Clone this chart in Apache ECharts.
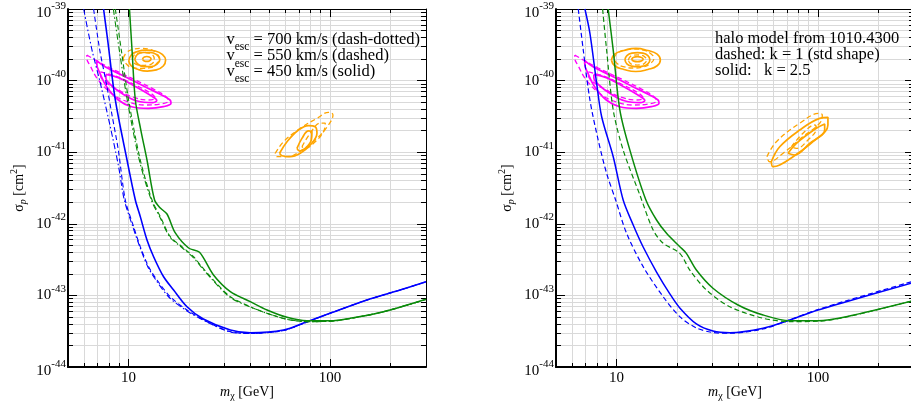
<!DOCTYPE html>
<html><head><meta charset="utf-8">
<script src="https://cdn.jsdelivr.net/npm/echarts@6/dist/echarts.min.js"></script>
<style>html,body{margin:0;padding:0;background:#fff;overflow:hidden}#c{width:911px;height:410px}</style>
</head><body><div id="c"></div>
<script>
// ---------------- data: mass [GeV], cross-section [cm^2] ----------------
const xTickMajor = [10, 100];
const xTickMinor = [5, 6, 7, 8, 9, 20, 30, 40, 50, 60, 70, 80, 90, 200, 300];
const xTickLabels = ['10', '100'];
const yTickMajor = [1e-44, 1e-43, 1e-42, 1e-41, 1e-40, 1e-39];
const yTickMantissa = [2, 3, 4, 5, 6, 7, 8, 9];
const yTickLabels = ['-44', '-43', '-42', '-41', '-40', '-39'];

// left panel: escape velocity variations
const leftBlueSolid = [[7.51,1e-39],[7.87,3.69e-40],[8.59,5.36e-41],[9.82,7.78e-42],[10.8,2.15e-42],[11.43,1.26e-42],[12.34,5.94e-43],[13.31,3.47e-43],[14.92,1.82e-43],[16.73,1.19e-43],[19.5,6.95e-44],[23.5,4.68e-44],[32.0,3.29e-44],[40.2,3.01e-44],[58.8,3.29e-44],[76.9,4.30e-44],[100,5.62e-44],[152.7,8.63e-44],[223,1.19e-43],[300,1.55e-43]];
const leftBlueDashed = [[6.70,1e-39],[7.19,2.67e-40],[7.75,9.16e-41],[8.30,3.13e-41],[8.89,1.07e-41],[9.63,2.15e-42],[10.59,9.12e-43],[11.43,4.79e-43],[12.57,2.52e-43],[13.84,1.64e-43],[16.1,9.59e-44],[19.5,6.25e-44],[24.5,4.30e-44],[32.0,3.12e-44],[40.2,2.94e-44],[58.8,3.24e-44],[76.9,4.25e-44],[100,5.62e-44],[152.7,8.63e-44],[223,1.19e-43],[300,1.55e-43]];
const leftBlueDashDot = [[5.98,1e-39],[6.58,2.67e-40],[7.24,9.16e-41],[8.11,2.27e-41],[8.92,6.27e-42],[9.52,2.15e-42],[10.49,9.12e-43],[11.36,4.79e-43],[12.45,2.52e-43],[13.73,1.61e-43],[15.92,9.35e-44],[19.34,6.15e-44],[24.5,4.25e-44],[32.0,3.08e-44],[40.2,2.94e-44],[58.8,3.24e-44],[76.9,4.25e-44],[100,5.62e-44],[152.7,8.63e-44],[223,1.19e-43],[300,1.55e-43]];
const leftGreenSolid = [[10.1,1e-39],[10.4,2.67e-40],[10.8,5.36e-41],[11.5,2.04e-41],[12.34,7.78e-42],[13.46,2.15e-42],[14.37,1.66e-42],[15.51,1.37e-42],[17.06,7.45e-43],[19.86,4.59e-43],[22.5,4.00e-43],[26.4,1.93e-43],[32.0,1.13e-43],[40.2,8.17e-44],[48.7,6.25e-44],[61.2,4.94e-44],[76.9,4.43e-44],[100,4.43e-44],[126.2,4.79e-44],[184.6,5.92e-44],[300,8.83e-44]];
const leftGreenDashed = [[8.59,1e-39],[9.20,2.67e-40],[10.0,5.36e-41],[11.43,7.78e-42],[13.07,2.15e-42],[14.37,1.26e-42],[16.11,6.61e-43],[18.41,4.79e-43],[21.02,3.47e-43],[22.7,2.66e-43],[26.4,1.64e-43],[32.0,9.59e-44],[40.2,6.95e-44],[48.7,5.62e-44],[61.2,4.64e-44],[76.9,4.30e-44],[100,4.35e-44],[126.2,4.76e-44],[184.6,5.92e-44],[300,8.77e-44]];
const leftGreenDashDot = [[8.40,1e-39],[8.99,2.67e-40],[9.85,5.36e-41],[11.30,7.78e-42],[12.96,2.15e-42],[14.29,1.24e-42],[16.02,6.55e-43],[18.27,4.74e-43],[20.96,3.38e-43],[22.7,2.58e-43],[26.4,1.59e-43],[32.0,9.35e-44],[40.2,6.89e-44],[48.7,5.62e-44],[61.2,4.64e-44],[76.9,4.30e-44],[100,4.35e-44],[126.2,4.76e-44],[184.6,5.92e-44],[300,8.77e-44]];

// right panel: halo shape variations
const rightBlueSolid = [[6.96,1e-39],[7.37,4.58e-40],[7.96,9.16e-41],[8.43,3.13e-41],[9.62,8.65e-42],[10.78,2.15e-42],[12.09,9.62e-43],[13.55,4.74e-43],[15.79,2.12e-43],[18.38,1.05e-43],[20.6,6.67e-44],[24.9,3.99e-44],[30.1,3.18e-44],[36.5,3.01e-44],[53.4,3.48e-44],[72.4,4.53e-44],[100,6.25e-44],[138.3,8.17e-44],[300,1.52e-43]];
const rightBlueDashed = [[6.45,1e-39],[6.83,2.67e-40],[7.37,5.36e-41],[8.10,1.48e-41],[8.92,5.07e-42],[9.89,2.15e-42],[11.21,7.36e-43],[13.55,2.52e-43],[17.03,9.59e-44],[20.6,5.05e-44],[24.9,3.51e-44],[30.1,3.03e-44],[36.5,2.96e-44],[53.4,3.40e-44],[72.4,4.56e-44],[100,6.35e-44],[138.3,8.41e-44],[300,1.59e-43]];
const rightGreenSolid = [[9.08,1e-39],[9.62,2.67e-40],[10.38,3.88e-41],[11.64,1.07e-41],[13.98,2.15e-42],[15.79,1.13e-42],[17.70,7.36e-43],[20.6,4.79e-43],[22.2,3.87e-43],[24.9,2.26e-43],[30.1,1.26e-43],[40.1,7.35e-44],[53.4,5.32e-44],[72.4,4.43e-44],[100,4.43e-44],[138.3,5.05e-44],[300,8.49e-44]];
const rightGreenDashed = [[8.52,1e-39],[8.92,2.67e-40],[9.62,3.88e-41],[10.78,1.07e-41],[13.05,2.52e-42],[15.19,8.18e-43],[17.03,5.35e-43],[20.6,3.87e-43],[23.1,2.26e-43],[27.95,1.19e-43],[36.5,6.95e-44],[53.4,4.79e-44],[72.4,4.30e-44],[100,4.36e-44],[138.3,4.99e-44],[300,8.49e-44]];

// magenta contours (same in both panels)
const magentaSolidOuter = [[6.94,1.90e-40],[7.64,1.56e-40],[9.23,1.20e-40],[12.06,8.22e-41],[14.58,6.30e-41],[16.06,5.36e-41],[16.24,4.82e-41],[14.87,4.32e-41],[12.53,4.10e-41],[10.35,4.32e-41],[8.89,5.36e-41],[7.78,8.22e-41],[7.21,1.26e-40],[6.94,1.75e-40],[6.94,1.90e-40]];
const magentaSolidInner = [[7.71,1.22e-40],[8.89,1.10e-40],[10.80,8.28e-41],[13.11,6.00e-41],[13.80,5.27e-41],[13.11,4.94e-41],[11.05,5.19e-41],[9.20,6.71e-41],[8.11,8.83e-41],[7.71,1.10e-40],[7.71,1.22e-40]];
const magentaDashedOuter = [[6.20,2.28e-40],[6.83,1.94e-40],[8.11,1.50e-40],[10.80,1.02e-40],[13.57,7.40e-41],[15.39,5.90e-41],[15.74,5.19e-41],[14.37,4.71e-41],[12.10,4.56e-41],[9.97,5.02e-41],[8.30,6.50e-41],[7.07,1.02e-40],[6.45,1.60e-40],[6.20,2.07e-40],[6.20,2.28e-40]];
const magentaDashedInner = [[7.24,1.32e-40],[8.59,1.16e-40],[10.80,8.69e-41],[12.82,6.71e-41],[13.57,5.71e-41],[12.53,5.36e-41],[10.43,5.90e-41],[8.89,7.40e-41],[7.66,9.55e-41],[7.24,1.20e-40],[7.24,1.32e-40]];

// orange contours, left panel
const leftOrangeLowSolidOuter = [[10.02,1.88e-40],[10.31,2.28e-40],[11.05,2.55e-40],[12.24,2.67e-40],[13.57,2.59e-40],[14.70,2.32e-40],[15.27,1.94e-40],[14.87,1.60e-40],[13.73,1.41e-40],[12.38,1.36e-40],[11.17,1.43e-40],[10.31,1.60e-40],[10.02,1.88e-40]];
const leftOrangeLowSolidMid = [[10.73,1.97e-40],[11.05,2.32e-40],[11.83,2.47e-40],[12.82,2.47e-40],[13.73,2.32e-40],[14.29,1.97e-40],[13.89,1.71e-40],[12.96,1.57e-40],[11.97,1.57e-40],[11.17,1.68e-40],[10.73,1.97e-40]];
const leftOrangeLowSolidCore = [[11.72,2.00e-40],[11.97,2.14e-40],[12.31,2.17e-40],[12.67,2.14e-40],[12.93,2.00e-40],[12.67,1.88e-40],[12.31,1.85e-40],[11.97,1.88e-40],[11.72,2.00e-40]];
const leftOrangeLowDashedOuter = [[9.41,2.04e-40],[9.74,2.43e-40],[10.43,2.72e-40],[11.56,2.81e-40],[12.82,2.72e-40],[13.73,2.43e-40],[14.21,2.04e-40],[13.73,1.71e-40],[12.82,1.52e-40],[11.56,1.48e-40],[10.43,1.52e-40],[9.74,1.71e-40],[9.41,2.04e-40]];
const leftOrangeLowDashedMid = [[10.43,2.00e-40],[10.73,2.32e-40],[11.30,2.43e-40],[11.83,2.47e-40],[12.53,2.43e-40],[13.11,2.32e-40],[13.41,2.00e-40],[13.11,1.73e-40],[12.38,1.65e-40],[11.83,1.63e-40],[11.17,1.65e-40],[10.73,1.73e-40],[10.43,2.00e-40]];
const leftOrangeHighSolidOuter = [[56.2,9.66e-42],[61.2,1.40e-41],[69.8,2.04e-41],[78.3,2.35e-41],[84.5,2.27e-41],[86.2,1.84e-41],[79.8,1.26e-41],[71.2,9.66e-42],[63.5,8.65e-42],[57.8,8.93e-42],[56.2,9.66e-42]];
const leftOrangeHighSolidInner = [[68.6,1.13e-41],[72.6,1.56e-41],[78.3,1.98e-41],[81.4,1.93e-41],[80.8,1.48e-41],[75.4,1.13e-41],[70.6,1.04e-41],[68.6,1.13e-41]];
const leftOrangeHighDashedOuter = [[53.5,9.66e-42],[58.8,1.40e-41],[71.2,2.16e-41],[86.2,2.97e-41],[98.4,3.61e-41],[103.5,3.31e-41],[98.4,2.40e-41],[86.2,1.56e-41],[72.6,1.07e-41],[61.2,8.65e-42],[54.6,8.65e-42],[53.5,9.66e-42]];
const leftOrangeHighDashedInner = [[72.6,1.19e-41],[79.8,1.84e-41],[89.5,2.54e-41],[94.8,2.54e-41],[92.9,1.93e-41],[84.5,1.40e-41],[75.4,1.13e-41],[72.6,1.19e-41]];

// orange contours, right panel
const rightOrangeLowSolidOuter = [[9.42,1.94e-40],[9.78,2.34e-40],[10.87,2.63e-40],[12.46,2.81e-40],[14.30,2.63e-40],[15.90,2.34e-40],[16.49,1.94e-40],[15.90,1.61e-40],[14.30,1.43e-40],[12.46,1.34e-40],[10.87,1.43e-40],[9.78,1.61e-40],[9.42,1.94e-40]];
const rightOrangeLowSolidMid = [[11.0,1.96e-40],[11.25,2.24e-40],[11.91,2.42e-40],[12.69,2.46e-40],[13.51,2.42e-40],[14.30,2.24e-40],[14.63,1.96e-40],[14.30,1.71e-40],[13.51,1.59e-40],[12.69,1.56e-40],[11.91,1.59e-40],[11.25,1.71e-40],[11.0,1.96e-40]];
const rightOrangeLowSolidCore = [[11.87,1.99e-40],[12.18,2.12e-40],[12.69,2.16e-40],[13.20,2.12e-40],[13.55,1.99e-40],[13.20,1.87e-40],[12.69,1.84e-40],[12.18,1.87e-40],[11.87,1.99e-40]];
const rightOrangeLowDashedOuter = [[9.70,2.04e-40],[10.03,2.38e-40],[10.93,2.67e-40],[12.18,2.76e-40],[13.58,2.67e-40],[14.79,2.38e-40],[15.31,2.04e-40],[14.79,1.75e-40],[13.58,1.55e-40],[12.18,1.50e-40],[10.93,1.55e-40],[10.03,1.75e-40],[9.70,2.04e-40]];
const rightOrangeLowDashedMid = [[11.44,1.94e-40],[11.64,2.14e-40],[12.12,2.26e-40],[12.69,2.28e-40],[13.28,2.26e-40],[13.82,2.14e-40],[14.06,1.94e-40],[13.82,1.76e-40],[13.28,1.67e-40],[12.69,1.65e-40],[12.12,1.67e-40],[11.64,1.76e-40],[11.44,1.94e-40]];
const rightOrangeHighSolidOuter = [[58.7,7.36e-42],[64.6,1.19e-41],[81.2,2.04e-41],[102.0,2.97e-41],[112.1,3.07e-41],[112.1,2.40e-41],[94.5,1.40e-41],[75.2,8.65e-42],[64.6,6.62e-42],[59.8,6.27e-42],[58.7,7.36e-42]];
const rightOrangeHighSolidInner = [[71.0,9.66e-42],[78.2,1.33e-41],[98.2,2.16e-41],[108.0,2.48e-41],[108.0,2.04e-41],[90.9,1.33e-41],[76.6,9.14e-42],[71.0,9.66e-42]];
const rightOrangeHighDashedOuter = [[55.8,8.65e-42],[62.2,1.40e-41],[81.2,2.54e-41],[102.0,3.49e-41],[105.1,3.31e-41],[102.0,2.54e-41],[84.3,1.65e-41],[67.1,9.66e-42],[57.6,7.36e-42],[55.8,8.65e-42]];
const rightOrangeHighDashedInner = [[73.8,1.19e-41],[84.3,1.84e-41],[96.3,2.40e-41],[98.2,2.16e-41],[89.2,1.48e-41],[78.2,1.13e-41],[73.8,1.19e-41]];

const leftLegendLines = ['700 km/s (dash-dotted)', '550 km/s (dashed)', '450 km/s (solid)'];
const rightLegendLines = ['halo model from 1010.4300', 'dashed: k = 1 (std shape)', 'solid:   k = 2.5'];

// ---------------- chart ----------------
const FONT = '"Liberation Serif","Times New Roman",serif';
const BLUE = '#0000ff', GREEN = '#0a8a0a', MAGENTA = '#ff00ff', ORANGE = '#ffa500';
const GRIDC = '#d9d9d9';
const L = Math.log10;
const toLog = pts => pts.map(p => [L(p[0]), L(p[1])]);

const xMin = L(5), xMax = L(300), yMin = -44, yMax = -39;
const xMajorLog = xTickMajor.map(L);
const xAllLog = xTickMajor.concat(xTickMinor).map(L);
const yMajorLog = yTickMajor.map(v => Math.round(L(v)));
const yAllLog = yMajorLog.slice();
yMajorLog.forEach(e => { if (e < yMax) yTickMantissa.forEach(m => yAllLog.push(e + L(m))); });

const grids = [
  {left: 68, top: 9, width: 358, height: 358, outerBoundsMode: 'none'},
  {left: 556, top: 9, width: 358, height: 358, outerBoundsMode: 'none'}
];

const yRich = {
  b: {fontFamily: FONT, fontSize: 15, color: '#000', lineHeight: 15},
  s: {fontFamily: FONT, fontSize: 11, color: '#000', lineHeight: 11, padding: [0, 0, 13, 0]},
  bt: {fontFamily: FONT, fontSize: 15, color: '#000', lineHeight: 15, padding: [8, 0, 0, 0]},
  st: {fontFamily: FONT, fontSize: 11, color: '#000', lineHeight: 11, padding: [0, 0, 6, 0]}
};

function xAxesFor(g) {
  const out = [];
  ['bottom', 'top'].forEach(pos => {
    [false, true].forEach(major => {
      const isMain = pos === 'bottom';
      out.push({
        type: 'value', gridIndex: g, position: pos, min: xMin, max: xMax,
        axisLine: {show: !major, onZero: false, lineStyle: {color: '#000', width: isMain ? 2 : 1}},
        axisTick: {show: true, inside: true, length: major ? 8 : 4, customValues: major ? xMajorLog : xAllLog,
                   lineStyle: {color: '#000', width: 1}},
        splitLine: {show: isMain && !major, lineStyle: {color: GRIDC, width: 1}},
        minorTick: {show: false}, minorSplitLine: {show: false},
        axisLabel: (isMain && major) ? {
          show: true, customValues: xMajorLog, margin: 4, fontFamily: FONT, fontSize: 15, color: '#000',
          formatter: v => xTickLabels[xMajorLog.findIndex(t => Math.abs(t - v) < 1e-6)]
        } : {show: false}
      });
    });
  });
  return out;
}

function yAxesFor(g) {
  const out = [];
  ['left', 'right'].forEach(pos => {
    [false, true].forEach(major => {
      const isMain = pos === 'left';
      out.push({
        type: 'value', gridIndex: g, position: pos, min: yMin, max: yMax,
        axisLine: {show: !major, onZero: false, lineStyle: {color: '#000', width: isMain ? 2 : 1}},
        axisTick: {show: true, inside: true, length: major ? 9 : 5, customValues: major ? yMajorLog : yAllLog,
                   lineStyle: {color: '#000', width: 1}},
        splitLine: {show: isMain && !major, lineStyle: {color: GRIDC, width: 1}},
        minorTick: {show: false}, minorSplitLine: {show: false},
        axisLabel: (isMain && major) ? {
          show: true, customValues: yMajorLog, margin: 2,
          formatter: v => {
            const i = yMajorLog.findIndex(t => Math.abs(t - v) < 1e-6);
            const edge = (i === 0 || i === yMajorLog.length - 1);
            return '{' + (edge ? 'bt' : 'b') + '|10}{' + (edge ? 'st' : 's') + '|' + yTickLabels[i] + '}';
          },
          rich: yRich
        } : {show: false}
      });
    });
  });
  return out;
}

const DASH = [5, 3], DASHDOT = [6, 2.5, 1.5, 2.5];
const defs = [
  // panel, data, color, dash, width, smooth
  [0, magentaDashedOuter, MAGENTA, DASH, 1.3, 0.4],
  [0, magentaDashedInner, MAGENTA, DASH, 1.3, 0.4],
  [0, magentaSolidOuter, MAGENTA, 'solid', 1.7, 0.4],
  [0, magentaSolidInner, MAGENTA, 'solid', 1.7, 0.4],
  [0, leftOrangeLowDashedOuter, ORANGE, DASH, 1.3, 0.5],
  [0, leftOrangeLowDashedMid, ORANGE, DASH, 1.3, 0.5],
  [0, leftOrangeLowSolidOuter, ORANGE, 'solid', 1.7, 0.5],
  [0, leftOrangeLowSolidMid, ORANGE, 'solid', 1.7, 0.5],
  [0, leftOrangeLowSolidCore, ORANGE, 'solid', 1.7, 0.5],
  [0, leftOrangeHighDashedOuter, ORANGE, DASH, 1.3, 0.4],
  [0, leftOrangeHighDashedInner, ORANGE, DASH, 1.3, 0.4],
  [0, leftOrangeHighSolidOuter, ORANGE, 'solid', 1.7, 0.4],
  [0, leftOrangeHighSolidInner, ORANGE, 'solid', 1.7, 0.4],
  [0, leftBlueDashDot, BLUE, DASHDOT, 1.1, 0.3],
  [0, leftBlueDashed, BLUE, DASH, 1.1, 0.3],
  [0, leftBlueSolid, BLUE, 'solid', 1.6, 0.3],
  [0, leftGreenDashDot, GREEN, DASHDOT, 1.1, 0.3],
  [0, leftGreenDashed, GREEN, DASH, 1.1, 0.3],
  [0, leftGreenSolid, GREEN, 'solid', 1.5, 0.3],
  [1, magentaDashedOuter, MAGENTA, DASH, 1.3, 0.4],
  [1, magentaDashedInner, MAGENTA, DASH, 1.3, 0.4],
  [1, magentaSolidOuter, MAGENTA, 'solid', 1.7, 0.4],
  [1, magentaSolidInner, MAGENTA, 'solid', 1.7, 0.4],
  [1, rightOrangeLowDashedOuter, ORANGE, DASH, 1.3, 0.5],
  [1, rightOrangeLowDashedMid, ORANGE, DASH, 1.3, 0.5],
  [1, rightOrangeLowSolidOuter, ORANGE, 'solid', 1.7, 0.5],
  [1, rightOrangeLowSolidMid, ORANGE, 'solid', 1.7, 0.5],
  [1, rightOrangeLowSolidCore, ORANGE, 'solid', 1.7, 0.5],
  [1, rightOrangeHighDashedOuter, ORANGE, DASH, 1.3, 0.4],
  [1, rightOrangeHighDashedInner, ORANGE, DASH, 1.3, 0.4],
  [1, rightOrangeHighSolidOuter, ORANGE, 'solid', 1.7, 0.4],
  [1, rightOrangeHighSolidInner, ORANGE, 'solid', 1.7, 0.4],
  [1, rightBlueDashed, BLUE, DASH, 1.2, 0.3],
  [1, rightBlueSolid, BLUE, 'solid', 1.5, 0.3],
  [1, rightGreenDashed, GREEN, DASH, 1.2, 0.3],
  [1, rightGreenSolid, GREEN, 'solid', 1.5, 0.3]
];

const series = defs.map(d => ({
  type: 'line', xAxisIndex: d[0] * 4, yAxisIndex: d[0] * 4,
  data: toLog(d[1]), showSymbol: false, symbol: 'none', smooth: d[5], clip: true,
  lineStyle: {color: d[2], width: d[4], type: d[3]}, silent: true, z: 3
}));

const lgRich = {
  v: {fontFamily: FONT, fontSize: 16.5, fill: '#000', lineHeight: 18},
  s: {fontFamily: FONT, fontSize: 11.5, fill: '#000', lineHeight: 12, padding: [15, 0, 0, 0]},
  t: {fontFamily: FONT, fontSize: 16.5, fill: '#000', lineHeight: 18}
};
const xNameRich = {
  i: {fontFamily: FONT, fontSize: 14, fontStyle: 'italic', fill: '#000', lineHeight: 14},
  c: {fontFamily: FONT, fontSize: 10, fill: '#000', lineHeight: 10, padding: [8, 0, 0, 0]},
  t: {fontFamily: FONT, fontSize: 14, fill: '#000', lineHeight: 14}
};
const yNameRich = {
  g: {fontFamily: FONT, fontSize: 14, fill: '#000', lineHeight: 14},
  p: {fontFamily: FONT, fontSize: 10, fontStyle: 'italic', fill: '#000', lineHeight: 10, padding: [8, 0, 0, 0]},
  t: {fontFamily: FONT, fontSize: 14, fill: '#000', lineHeight: 14},
  u: {fontFamily: FONT, fontSize: 10, fill: '#000', lineHeight: 10, padding: [0, 0, 9, 0]}
};
const leftY = [39.3, 56, 71.7], rightY = [38.3, 55, 70.7];
const graphic = [];
leftLegendLines.forEach((s, i) => graphic.push({
  type: 'text', x: 226.5, y: leftY[i], z: 10,
  style: {text: '{v|v}{s|esc}{t| = ' + s + '}', rich: lgRich, align: 'left', verticalAlign: 'middle'}
}));
rightLegendLines.forEach((s, i) => graphic.push({
  type: 'text', x: 715, y: rightY[i], z: 10,
  style: {text: s, font: '16.5px ' + FONT, fill: '#000', align: 'left', verticalAlign: 'middle'}
}));
grids.forEach(g => {
  graphic.push({
    type: 'text', x: g.left + g.width / 2, y: 392, z: 10,
    style: {text: '{i|m}{c|χ}{t| [GeV]}', rich: xNameRich, align: 'center', verticalAlign: 'middle'}
  });
  graphic.push({
    type: 'text', x: g.left - 49, y: g.top + g.height / 2, rotation: Math.PI / 2, z: 10,
    style: {text: '{g|σ}{p|p}{t| [cm}{u|2}{t|]}', rich: yNameRich, align: 'center', verticalAlign: 'middle'}
  });
});

const chart = echarts.init(document.getElementById('c'), null, {renderer: 'canvas'});
chart.setOption({
  animation: false,
  backgroundColor: '#fff',
  grid: grids,
  xAxis: xAxesFor(0).concat(xAxesFor(1)),
  yAxis: yAxesFor(0).concat(yAxesFor(1)),
  series: series,
  graphic: graphic
});
</script>
</body></html>
